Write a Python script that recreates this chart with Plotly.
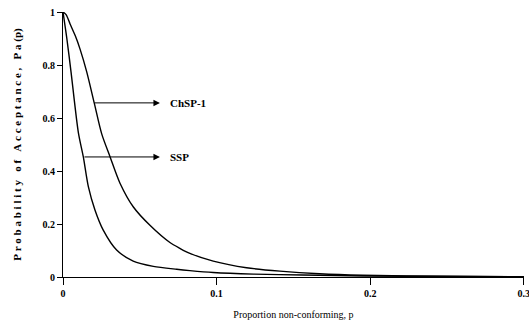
import plotly.graph_objects as go

# Data
p_ssp = [0.0, 0.0025, 0.0052, 0.0100, 0.0132, 0.0165, 0.0208, 0.0262, 0.0349, 0.0457, 0.0588,
         0.0740, 0.0826, 0.0978, 0.124, 0.156, 0.195, 0.25, 0.3]
pa_ssp = [1.0, 0.90, 0.775, 0.545, 0.454, 0.341, 0.253, 0.177, 0.102, 0.060, 0.040,
          0.029, 0.024, 0.017, 0.011, 0.0075, 0.004, 0.002, 0.001]

p_chsp = [0.0, 0.002, 0.0046, 0.0080, 0.0111, 0.0154, 0.0204, 0.0252, 0.0306, 0.0371, 0.0457,
          0.0566, 0.0696, 0.0761, 0.0826, 0.0978, 0.1195, 0.1412, 0.167, 0.195, 0.25, 0.3]
pa_chsp = [1.0, 0.99, 0.955, 0.91, 0.86, 0.775, 0.655, 0.540, 0.454, 0.354, 0.265,
           0.195, 0.130, 0.108, 0.089, 0.060, 0.035, 0.022, 0.012, 0.0065, 0.003, 0.001]

x_ticks = [0, 0.1, 0.2, 0.3]
x_tick_labels = ["0", "0.1", "0.2", "0.3"]
y_ticks = [0, 0.2, 0.4, 0.6, 0.8, 1.0]
y_tick_labels = ["0", "0.2", "0.4", "0.6", "0.8", "1"]

labels = ["ChSP-1", "SSP"]
label_y = [0.657, 0.453]
arrow_tail_x = [0.0195, 0.013]
arrow_tip_x = 0.0631
label_x = 0.0683

FONT = "Liberation Serif"

fig = go.Figure()
fig.add_trace(go.Scatter(x=p_chsp, y=pa_chsp, mode="lines",
                         line=dict(color="black", width=1.4, shape="spline", smoothing=0.8),
                         name="ChSP-1", showlegend=False))
fig.add_trace(go.Scatter(x=p_ssp, y=pa_ssp, mode="lines",
                         line=dict(color="black", width=1.4, shape="spline", smoothing=0.8),
                         name="SSP", showlegend=False))

for lab, ly, tx in zip(labels, label_y, arrow_tail_x):
    fig.add_annotation(x=arrow_tip_x, y=ly, ax=tx, ay=ly, xref="x", yref="y",
                       axref="x", ayref="y", text="", showarrow=True,
                       arrowhead=2, arrowsize=1.3, arrowwidth=1, arrowcolor="black")
    fig.add_annotation(x=label_x, y=ly, xref="x", yref="y", text=lab, showarrow=False,
                       xanchor="left", yanchor="middle",
                       font=dict(family=FONT, size=11, color="black", weight="bold"))

NB = "\u00a0"
ytitle = (NB.join("Probability") + NB * 3 + NB.join("of") + NB * 3
          + NB.join("Acceptance,") + NB * 3 + "P" + NB + "a" + NB + "(p)")

fig.update_layout(
    width=529, height=325,
    margin=dict(l=63, r=5, t=12, b=48),
    paper_bgcolor="white", plot_bgcolor="white",
    font=dict(family=FONT, color="black"),
    xaxis=dict(range=[0, 0.3001], tickvals=x_ticks, ticktext=x_tick_labels, automargin=False,
               showline=True, linecolor="black", linewidth=1, showgrid=False,
               zeroline=False, ticks="outside", ticklen=7, tickcolor="black",
               ticklabeloverflow="allow",
               tickfont=dict(family=FONT, size=10, weight="bold"),
               title=dict(text="Proportion non-conforming, p",
                          font=dict(family=FONT, size=10), standoff=12)),
    yaxis=dict(range=[0, 1], tickvals=y_ticks, ticktext=y_tick_labels, automargin=False,
               showline=True, linecolor="black", linewidth=1, showgrid=False,
               zeroline=False, ticks="outside", ticklen=5, tickcolor="black",
               tickfont=dict(family=FONT, size=10, weight="bold"),
               title=dict(text=ytitle, font=dict(family=FONT, size=11, weight="bold"),
                          standoff=18)),
)

fig.write_html("out.html", post_script="document.body.style.margin='0';",
               config={"displayModeBar": False})
